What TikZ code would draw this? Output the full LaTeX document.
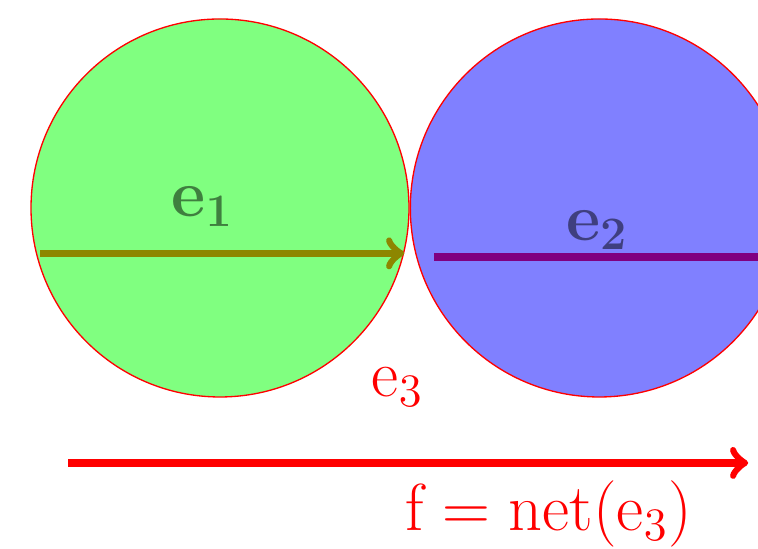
\documentclass[tikz,border=0pt]{standalone}
\usepackage{fix-cm}
\usepackage{amsmath}
\usetikzlibrary{positioning}
\definecolor{linepurple}{rgb}{0.5,0,0.5}

\begin{document}
\begin{tikzpicture}[
		ball/.style={
			circle, draw=red, minimum size=4cm, inner sep=0pt
		},
		greenball/.style={
			ball, fill=green!50
		},
		blueball/.style={
			ball, fill=blue!50
		},
		vec/.style={line width=2.3pt},
		arrow/.style={vec, ->},
		elabel/.style={
			anchor=base, inner sep=0pt, font=\fontsize{20}{24}\selectfont
		},
		flabel/.style={
			elabel, text=red
		}
		]
		
		% frame
		\clip (-2.328,-3.608) rectangle (5.693,2.201);
		
		% circles
		\node[greenball] (green) at (0,0) {};
		\node[blueball, right=0pt of green] (blue) {};
		
		% end points of the vectors
		\coordinate (g1) at (-1.9,-0.48);
		\coordinate (g2) at (1.95,-0.48);
		\coordinate (b1) at (2.265,-0.52);
		\coordinate (b2) at (6.2,-0.52);
		\coordinate (f1) at (-1.608,-2.698);
		\coordinate (f2) at (5.59,-2.698);
		
		% vectors
		\draw[arrow, olive] (g1) -- (g2);
		\draw[vec, linepurple] (b1) -- (b2);
		\draw[arrow, red] (f1) -- (f2);
		
		% labels
		\node[elabel, text opacity=0.5] (e1) at (-0.185,-0.095) {$\mathbf{e_1}$};
		\node[elabel, text opacity=0.5] (e2) at (3.989,-0.339) {$\mathbf{e_2}$};
		\node[flabel] (e3) at (1.878,-1.997) {$\mathrm{e_3}$};
		\node[flabel] (f) at (3.481,-3.415) {$\mathrm{f = net(e_3)}$};
	\end{tikzpicture}
\end{document}
